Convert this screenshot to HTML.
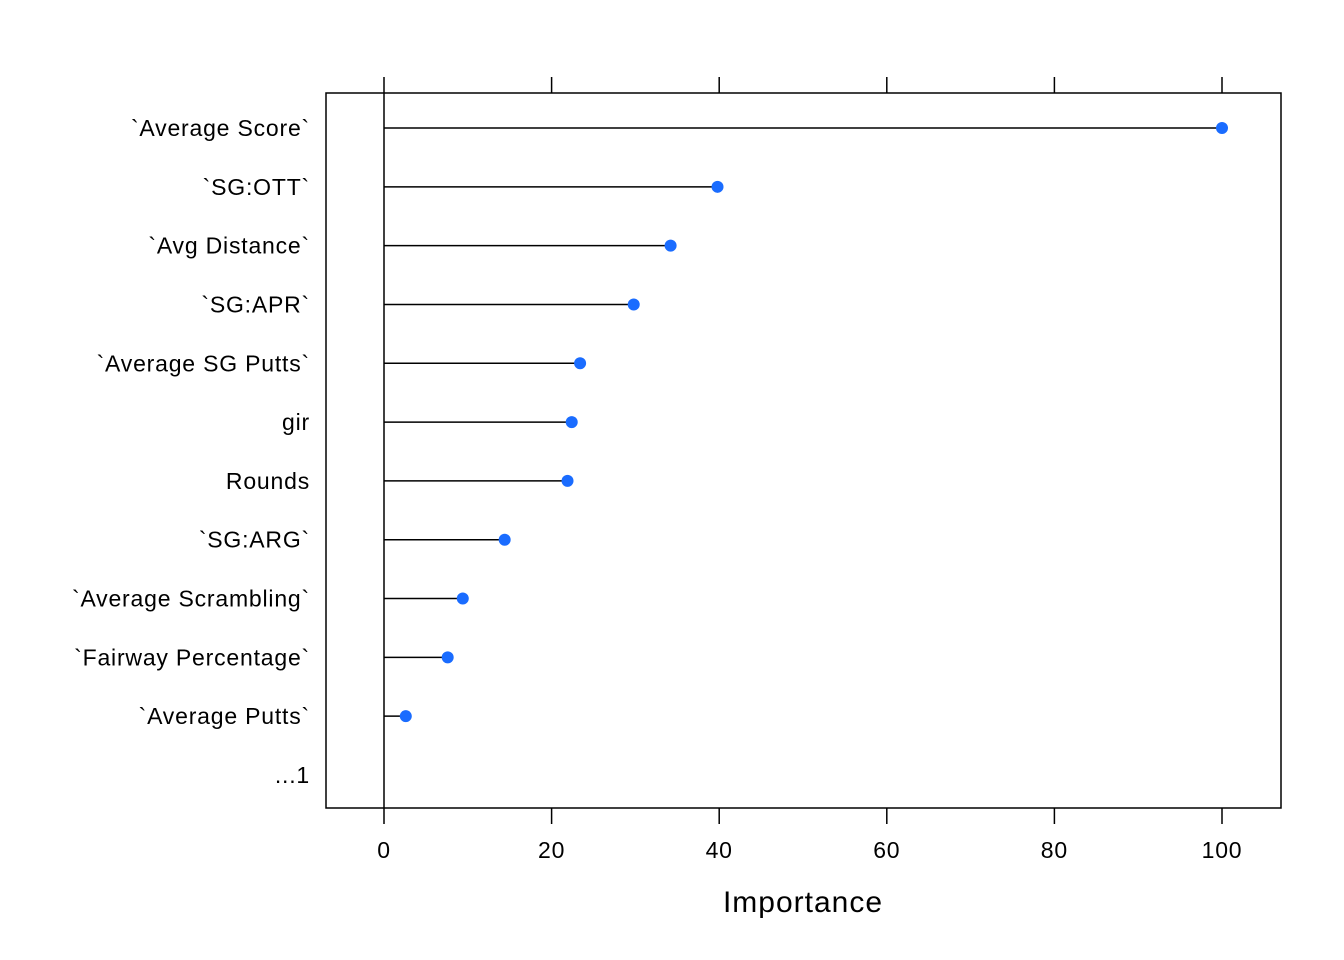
<!DOCTYPE html>
<html><head><meta charset="utf-8"><style>
html,body{margin:0;padding:0;background:#fff;}
svg{display:block;font-family:"Liberation Sans",Arial,sans-serif;}
</style></head><body>
<svg id="chart" width="1344" height="960" xmlns="http://www.w3.org/2000/svg"></svg>
<script>
const categories = ["`Average Score`","`SG:OTT`","`Avg Distance`","`SG:APR`","`Average SG Putts`","gir","Rounds","`SG:ARG`","`Average Scrambling`","`Fairway Percentage`","`Average Putts`","...1"];
const importance = [100, 39.8, 34.2, 29.8, 23.4, 22.4, 21.9, 14.4, 9.4, 7.6, 2.6, null];
const tickValues = [0, 20, 40, 60, 80, 100];
const tickLabels = ["0", "20", "40", "60", "80", "100"];

const NS = "http://www.w3.org/2000/svg";
const svg = document.getElementById("chart");
const px = { left: 326, right: 1281, top: 93, bottom: 808 };
const xScale = v => 384 + v * (1222 - 384) / 100;
const yScale = i => 128 + i * (775 - 128) / (categories.length - 1);

function mk(tag, attrs, text) {
  const el = document.createElementNS(NS, tag);
  for (const k in attrs) el.setAttribute(k, attrs[k]);
  if (text !== undefined) el.textContent = text;
  svg.appendChild(el);
  return el;
}

const frame = mk("rect", {x: px.left, y: px.top, width: px.right - px.left, height: px.bottom - px.top, fill: "none", stroke: "#000", "stroke-width": 1.5});



const zero = mk("line", {x1: xScale(0), x2: xScale(0), y1: px.top, y2: px.bottom, stroke: "#000", "stroke-width": 1.5});



tickValues.forEach((v, i) => {
  const x = xScale(v);
  const t1 = mk("line", {x1: x, x2: x, y1: 77, y2: px.top, stroke: "#000", "stroke-width": 1.5});
  
  
  const t2 = mk("line", {x1: x, x2: x, y1: px.bottom, y2: 824, stroke: "#000", "stroke-width": 1.5});
  
  
  const lb = mk("text", {x: x, y: 858, "text-anchor": "middle", "font-size": 23, "letter-spacing": 0.8}, tickLabels[i]);
  
  
});

categories.forEach((c, i) => {
  const y = yScale(i);
  const lb = mk("text", {x: 310, y: y + 8, "text-anchor": "end", "font-size": 23, "letter-spacing": 0.8}, c);
  
  
  const v = importance[i];
  if (v === null) return;
  const ln = mk("line", {x1: xScale(0), x2: xScale(v), y1: y, y2: y, stroke: "#000", "stroke-width": 1.5});
  
  
  const dot = mk("circle", {cx: xScale(v), cy: y, r: 6, fill: "#1a6cff"});
  
  
});

const xt = mk("text", {x: 803, y: 912, "text-anchor": "middle", "font-size": 30, "letter-spacing": 1}, "Importance");


</script>
</body></html>
